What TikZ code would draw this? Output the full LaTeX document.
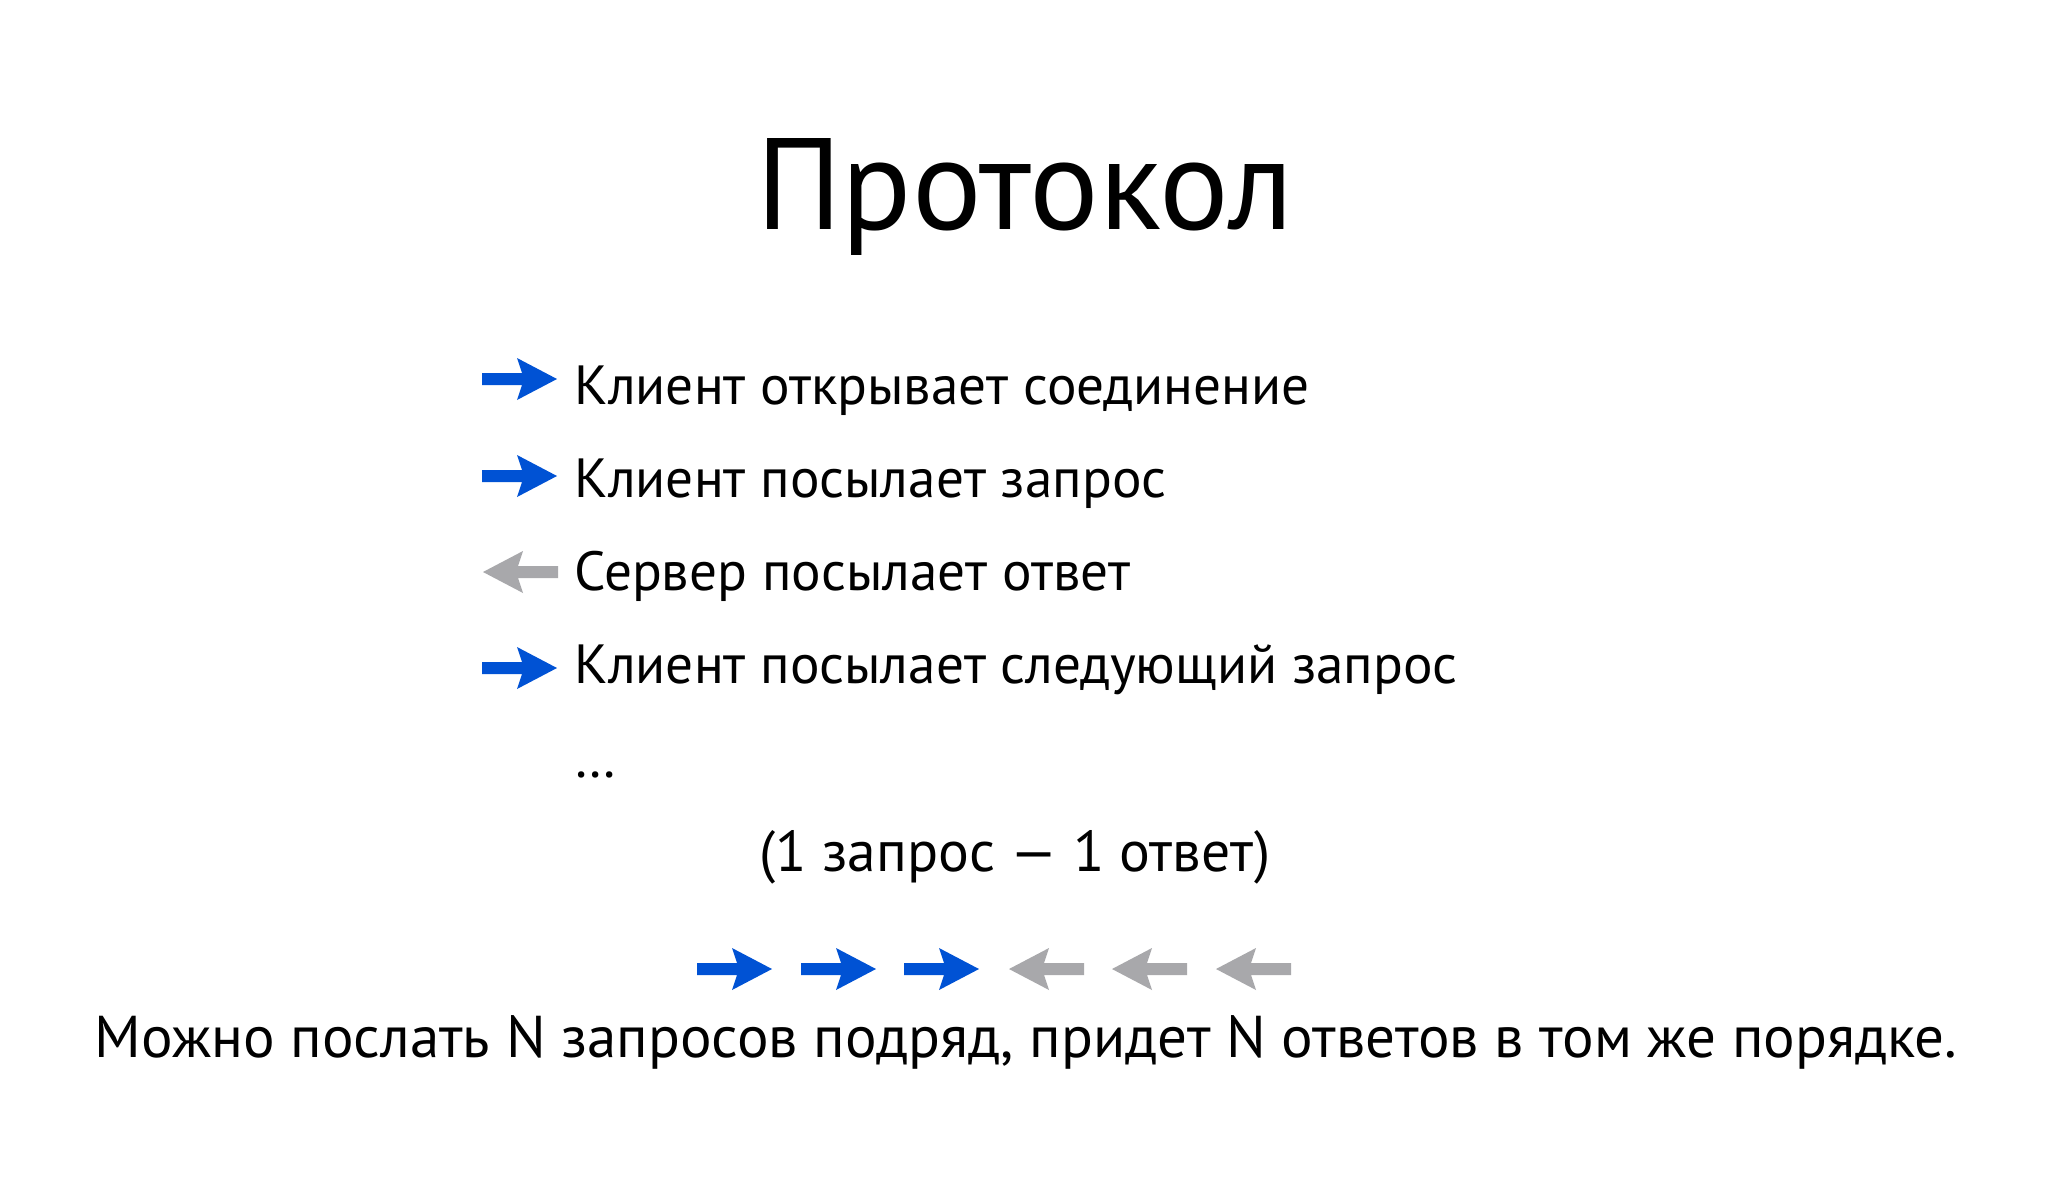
\documentclass[tikz,border=0pt]{standalone}
\usepackage{fontspec}
\setmainfont{PT Sans}
\definecolor{reqblue}{HTML}{0052D4}
\definecolor{respgray}{HTML}{A8A8AB}

\tikzset{
  itemtext/.style={anchor=base west, inner sep=0pt, font=\fontsize{27.6}{32}\selectfont},
  midtext/.style={anchor=base, inner sep=0pt, font=\fontsize{28.8}{34}\selectfont},
  bararrow/.pic={\fill (0,0) -- (-40,21) -- (-35,6) -- (-75,6) -- (-75,-6) -- (-35,-6) -- (-40,-21) -- cycle;},
}

\begin{document}
\begin{tikzpicture}[x=0.5pt,y=-0.5pt]
    \useasboundingbox[fill=white] (0,0) rectangle (2048,1199);

    \node (title) at (1025,229) [anchor=base, inner sep=0pt, font=\fontsize{65}{72}\selectfont] {Протокол};

    \node (row1) at (574,404) [itemtext] {Клиент открывает соединение};
    \node (row2) at (574,497) [itemtext] {Клиент посылает запрос};
    \node (row3) at (574,590) [itemtext] {Сервер посылает ответ};
    \node (row4) at (574,683) [itemtext] {Клиент посылает следующий запрос};
    \node (dots) at (574,777) [itemtext] {\dots};

    \pic[reqblue] at (557,379) {bararrow};
    \pic[reqblue] at (557,476) {bararrow};
    \pic[respgray, xscale=-1] at (483,572) {bararrow};
    \pic[reqblue] at (557,668) {bararrow};

    \node (ratio) at (1015,871) [midtext] {(1 запрос — 1 ответ)};

    % three requests out, three answers back
    \foreach \x in {772,876,979}
        \pic[reqblue] at (\x,969) {bararrow};
    \foreach \x in {1009,1112,1216}
        \pic[respgray, xscale=-1] at (\x,969) {bararrow};

    \node (note) at (1026,1057) [anchor=base, inner sep=0pt, font=\fontsize{29.5}{35}\selectfont] {Можно послать N запросов подряд, придет N ответов в том же порядке.};
\end{tikzpicture}
\end{document}
